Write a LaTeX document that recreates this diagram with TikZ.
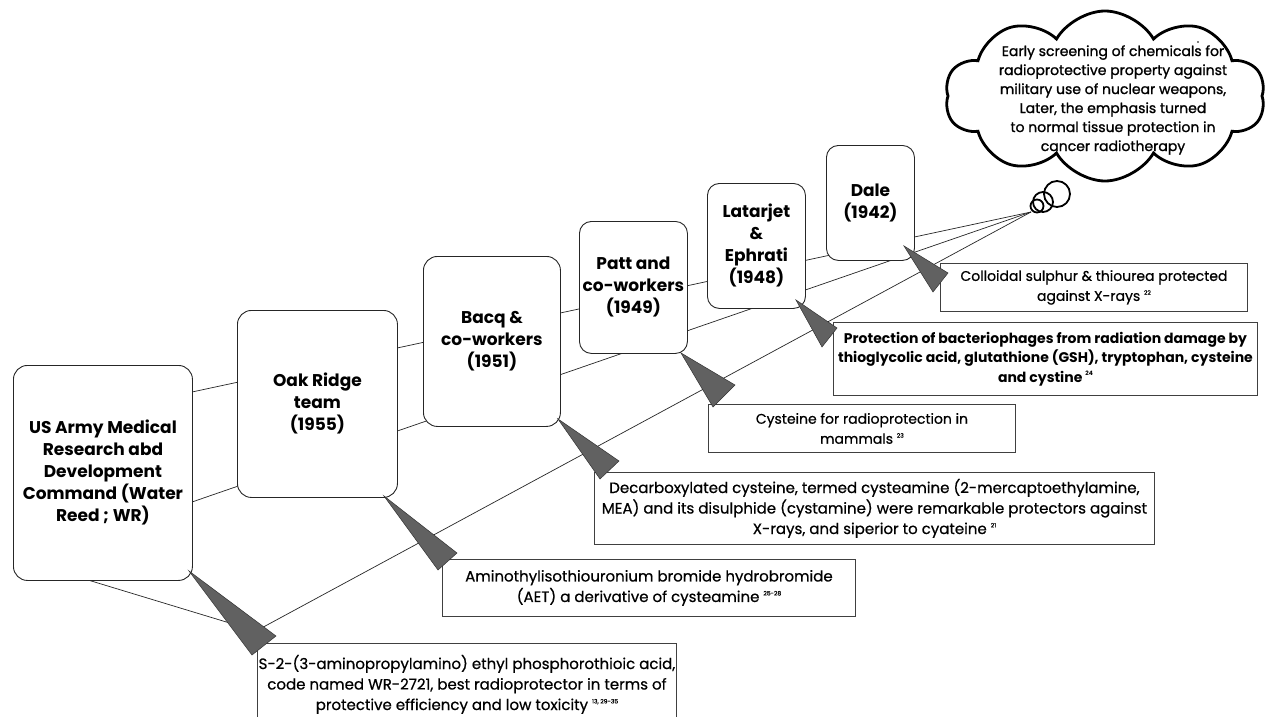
\documentclass[tikz,border=0pt]{standalone}
\usepackage{fontspec}
\setmainfont{Poppins}
\newfontfamily\popsemi[FakeBold=1.2]{Poppins}
\newfontfamily\popmid[FakeBold=0.6]{Poppins}
\usetikzlibrary{shapes.symbols}
\newcommand\refnum[1]{\raisebox{0.8ex}{\fontsize{6}{6}\selectfont #1}}
\tikzset{
  era/.style={draw=black!85, line width=0.9pt, rounded corners=14pt, fill=white,
    anchor=north west, align=center, inner sep=0pt,
    font=\fontsize{17}{22}\selectfont\bfseries},
  note/.style={draw=black!75, line width=0.9pt, fill=white, anchor=north west,
    align=center, inner sep=0pt, font=\fontsize{14}{20}\selectfont\popmid},
  bignote/.style={note, font=\fontsize{15}{20.5}\selectfont\popmid},
  pointer/.style={fill=black!62, draw=black!80, line width=0.5pt, line join=miter},
  ray/.style={draw=black!85, line width=0.7pt},
  bubble/.style={draw=black, line width=1.8pt},
}
\begin{document}
\begin{tikzpicture}[x=1pt,y=-1pt]
\useasboundingbox (0,0) rectangle (1267,717);
\clip (0,0) rectangle (1267,717);
\fill[white] (0,0) rectangle (1267,717);

% perspective rays converging on the thought bubble
\coordinate (V) at (1031,212);
\coordinate (a1) at (192,392);
\coordinate (a2) at (192,502);
\coordinate (a3) at (88,580);
\coordinate (bend) at (256,631);
\draw[ray] (V) -- (a1);
\draw[ray] (V) -- (a2);
\draw[ray] (V) -- (bend) -- (a3);

% era boxes
\node[era, minimum width=179pt, minimum height=215pt] (army) at (13,365)
  {US Army Medical\\Research abd\\Development\\Command (Water\\Reed ; WR)};
\node[era, minimum width=160pt, minimum height=187pt] (oak) at (237,310)
  {Oak Ridge\\team\\(1955)};
\node[era, minimum width=137pt, minimum height=170pt] (bacq) at (423,256)
  {Bacq \&\\co-workers\\(1951)};
\node[era, rounded corners=12pt, minimum width=108pt, minimum height=132pt] (patt) at (579,221)
  {Patt and\\co-workers\\(1949)};
\node[era, rounded corners=12pt, minimum width=98pt, minimum height=125pt] (lat) at (707,183)
  {Latarjet\\\&\\Ephrati\\(1948)};
\node[era, rounded corners=12pt, minimum width=88pt, minimum height=115pt] (dale) at (826,145)
  {Dale\\(1942)};

% callout boxes
\node[bignote, minimum width=419pt, minimum height=82pt] (s2) at (257,643)
  {S-2-(3-aminopropylamino) ethyl phosphorothioic acid,\\code named WR-2721, best radioprotector in terms of\\protective efficiency and low toxicity \refnum{13, 29-35}};
\node[bignote, minimum width=413pt, minimum height=57pt] (aet) at (442,559)
  {Aminothylisothiouronium bromide hydrobromide\\(AET) a derivative of cysteamine \refnum{25-28}};
\node[bignote, minimum width=560pt, minimum height=72pt] (dec) at (594,472)
  {Decarboxylated cysteine, termed cysteamine (2-mercaptoethylamine,\\MEA) and its disulphide (cystamine) were remarkable protectors against\\X-rays, and siperior to cyateine \refnum{21}};
\node[note, minimum width=307pt, minimum height=48pt] (cys) at (708,404)
  {Cysteine for radioprotection in\\mammals \refnum{23}};
\node[note, font=\fontsize{14}{19.5}\selectfont\bfseries, minimum width=424pt, minimum height=73pt] (prot) at (833,322)
  {Protection of bacteriophages from radiation damage by\\thioglycolic acid, glutathione (GSH), tryptophan, cysteine\\and cystine \refnum{24}};
\node[note, minimum width=307pt, minimum height=48pt] (coll) at (940,263)
  {Colloidal sulphur \& thiourea protected\\against X-rays \refnum{22}};

% pointers from each era box to its callout
\filldraw[pointer] (army.south east) ++(-4,-10) coordinate (t1) -- (252,655) -- (276,636) -- cycle;
\filldraw[pointer] (oak.south east) ++(-14,-2) coordinate (t2) -- (438,570) -- (457,553) -- cycle;
\filldraw[pointer] (bacq.south east) ++(-3,-8) coordinate (t3) -- (600,479) -- (619,461) -- cycle;
\filldraw[pointer] (patt.south east) ++(-7,-1) coordinate (t4) -- (713,407) -- (735,385) -- cycle;
\filldraw[pointer] (lat.south east) ++(-10,-9) coordinate (t5) -- (822,347) -- (837,328) -- cycle;
\filldraw[pointer] (dale.south east) ++(-11,-15) coordinate (t6) -- (933,292) -- (948,273) -- cycle;

% thought cloud
\node[cloud, draw=black, line width=2.8pt, cloud puffs=10, cloud puff arc=120,
  cloud ignores aspect, minimum width=320pt, minimum height=170pt, inner sep=0pt]
  (cloud) at (1105,96) {};
\node[font=\fontsize{14}{19}\selectfont\popsemi, align=center] (cloudtext) at (1113,100)
  {Early screening of chemicals for\\radioprotective property against\\military use of nuclear weapons,\\Later, the emphasis turned\\to normal tissue protection in\\cancer radiotherapy};
\draw[bubble] (1057,194) circle[radius=13pt];
\draw[bubble] (1043,202) circle[radius=10pt];
\draw[bubble] (1037,206) circle[radius=6.5pt];
\fill (1198,42) circle[radius=0.9pt];
\end{tikzpicture}
\end{document}
